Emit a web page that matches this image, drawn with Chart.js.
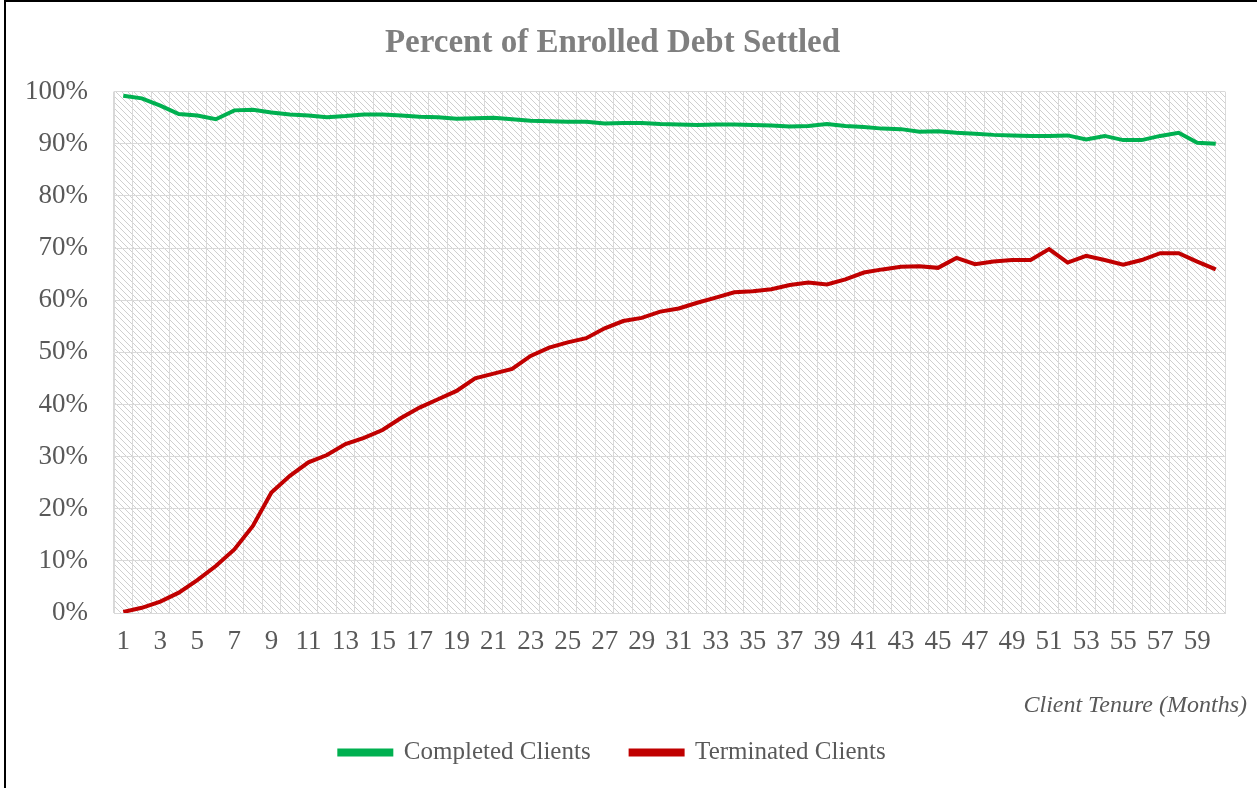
<!DOCTYPE html>
<html>
<head>
<meta charset="utf-8">
<script src="https://cdn.jsdelivr.net/npm/chart.js@4.4.0/dist/chart.umd.min.js"></script>
<style>
  body { margin: 0; background: #fff; }
  #wrap { position: relative; width: 1257px; height: 788px; }
  #frame { position: absolute; left: 4px; top: 0; width: 1257px; height: 788px;
           border-left: 2px solid #000; border-top: 2px solid #000; pointer-events: none; }
</style>
</head>
<body>
<div id="wrap">
  <canvas id="myChart" width="1257" height="788"></canvas>
  <div id="frame"></div>
</div>
<script>
// months 1..60
let months = []
for (let m = 1; m <= 60; m++) months.push(m)

let completedClients = [
  99.2, 98.7, 97.3, 95.7, 95.4, 94.7, 96.4, 96.5, 96.0, 95.6,
  95.4, 95.1, 95.3, 95.6, 95.6, 95.4, 95.2, 95.1, 94.8, 94.9,
  95.0, 94.7, 94.4, 94.3, 94.2, 94.2, 93.9, 94.0, 94.0, 93.8,
  93.7, 93.6, 93.7, 93.7, 93.6, 93.5, 93.3, 93.4, 93.8, 93.4,
  93.2, 92.9, 92.8, 92.3, 92.4, 92.1, 91.9, 91.7, 91.6, 91.5,
  91.5, 91.6, 90.8, 91.5, 90.7, 90.7, 91.5, 92.1, 90.2, 90.0
]

let terminatedClients = [
  0.2, 1.0, 2.2, 3.9, 6.3, 9.0, 12.2, 16.7, 23.1, 26.3,
  28.9, 30.3, 32.4, 33.6, 35.1, 37.4, 39.4, 41.0, 42.6, 45.0,
  45.9, 46.8, 49.3, 50.9, 51.9, 52.7, 54.6, 56.0, 56.6, 57.8,
  58.4, 59.5, 60.5, 61.5, 61.7, 62.1, 62.9, 63.4, 63.0, 64.0,
  65.3, 65.9, 66.4, 66.5, 66.2, 68.1, 66.9, 67.4, 67.7, 67.7,
  69.8, 67.2, 68.5, 67.7, 66.8, 67.7, 69.0, 69.0, 67.4, 65.9
]

let yTicks = [0, 10, 20, 30, 40, 50, 60, 70, 80, 90, 100]

/*------------------------------------ hatched plot background ------------------------------------*/
function makeHatch() {
    let c = document.createElement('canvas')
    c.width = 6
    c.height = 6
    let g = c.getContext('2d')
    g.fillStyle = '#ffffff'
    g.fillRect(0, 0, 6, 6)
    g.fillStyle = '#cfcfcf'
    for (let y = 0; y < 6; y++) {
        for (let x = 0; x < 6; x++) {
            let d = ((x - y) % 6 + 6) % 6
            if (d == 0 || (d == 1 && (x + y) % 2 == 0)) g.fillRect(x, y, 1, 1)
        }
    }
    return c
}
let hatch = makeHatch()

let bgPlugin = {
    id: 'hatchBg',
    beforeDraw(chart) {
        let a = chart.chartArea
        let ctx = chart.ctx
        ctx.save()
        ctx.fillStyle = ctx.createPattern(hatch, 'repeat')
        ctx.fillRect(a.left, a.top, a.right - a.left, a.bottom - a.top)
        ctx.restore()
    }
}

let axisTitlePlugin = {
    id: 'xAxisTitle',
    afterDraw(chart) {
        let ctx = chart.ctx
        ctx.save()
        ctx.font = 'italic 24px "Liberation Serif"'
        ctx.fillStyle = '#595959'
        ctx.textAlign = 'right'
        ctx.textBaseline = 'middle'
        ctx.fillText('Client Tenure (Months)', 1247, 706)
        ctx.restore()
    }
}

let ctx = document.getElementById('myChart').getContext('2d')
let myChart = new Chart(ctx, {
    type: 'line',
    data: {
        labels: months,
        datasets: [{
            label: 'Completed Clients',
            data: completedClients,
            borderColor: '#00b050',
            backgroundColor: '#00b050',
            borderWidth: 4,
            pointRadius: 0,
            tension: 0,
        }, {
            label: 'Terminated Clients',
            data: terminatedClients,
            borderColor: '#c00000',
            backgroundColor: '#c00000',
            borderWidth: 4,
            pointRadius: 0,
            tension: 0,
        }]
    },
    options: {
        responsive: false,
        animation: false,
        layout: { padding: { left: 0, right: 32, top: 10, bottom: 13 } },
        scales: {
            x: {
                offset: true,
                grid: { color: '#d9d9d9', lineWidth: 1, offset: true, drawTicks: false },
                border: { color: '#d9d9d9' },
                ticks: {
                    autoSkip: false,
                    maxRotation: 0,
                    padding: 13,
                    color: '#595959',
                    font: { family: 'Liberation Serif', size: 27 },
                    callback: function (v, i) { return i % 2 == 0 ? months[i] : '' }
                },
                afterFit: function (scale) { scale.height = 87 }
            },
            y: {
                min: 0,
                max: 100,
                afterBuildTicks: function (scale) { scale.ticks = yTicks.map(v => ({ value: v })) },
                grid: { color: '#d9d9d9', lineWidth: 1, drawTicks: false },
                border: { color: '#d9d9d9' },
                ticks: {
                    padding: 26,
                    color: '#595959',
                    font: { family: 'Liberation Serif', size: 27 },
                    callback: function (v) { return v + '%' }
                },
                afterFit: function (scale) { scale.width = 114 }
            }
        },
        plugins: {
            title: {
                display: true,
                text: 'Percent of Enrolled Debt Settled',
                color: '#7f7f7f',
                font: { family: 'Liberation Serif', size: 33, weight: 'bold' },
                padding: { top: 14, bottom: 28 }
            },
            legend: {
                display: true,
                position: 'bottom',
                labels: {
                    boxWidth: 52,
                    boxHeight: 4,
                    padding: 40,
                    color: '#595959',
                    font: { family: 'Liberation Serif', size: 25 }
                }
            },
            tooltip: { enabled: false }
        }
    },
    plugins: [bgPlugin, axisTitlePlugin]
})
</script>
</body>
</html>
